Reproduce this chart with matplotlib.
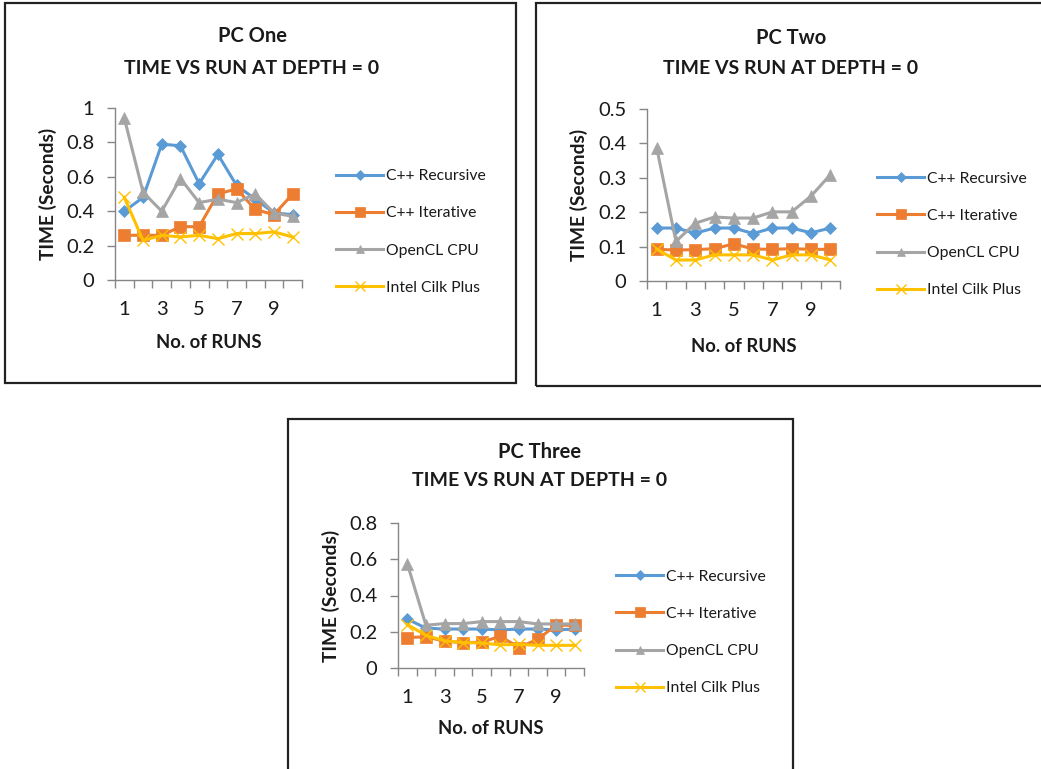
import matplotlib
matplotlib.use("Agg")
import matplotlib.pyplot as plt
from matplotlib.patches import Rectangle
from matplotlib.ticker import FixedLocator, NullFormatter

plt.rcParams['font.family'] = ['Lato', 'DejaVu Sans']

runs = [1, 2, 3, 4, 5, 6, 7, 8, 9, 10]
series_names = ["C++ Recursive", "C++ Iterative", "OpenCL CPU", "Intel Cilk Plus"]

pc1_recursive = [0.40, 0.48, 0.79, 0.78, 0.56, 0.73, 0.55, 0.47, 0.39, 0.38]
pc1_iterative = [0.26, 0.26, 0.26, 0.31, 0.31, 0.50, 0.53, 0.41, 0.38, 0.50]
pc1_opencl = [0.94, 0.51, 0.40, 0.59, 0.45, 0.47, 0.45, 0.50, 0.39, 0.37]
pc1_cilk = [0.48, 0.23, 0.26, 0.25, 0.26, 0.24, 0.27, 0.27, 0.28, 0.25]

pc2_recursive = [0.154, 0.154, 0.139, 0.154, 0.154, 0.138, 0.154, 0.154, 0.140, 0.154]
pc2_iterative = [0.092, 0.090, 0.091, 0.094, 0.108, 0.093, 0.092, 0.094, 0.092, 0.092]
pc2_opencl = [0.388, 0.115, 0.168, 0.186, 0.183, 0.183, 0.201, 0.201, 0.247, 0.309]
pc2_cilk = [0.093, 0.061, 0.061, 0.076, 0.076, 0.076, 0.061, 0.076, 0.076, 0.061]

pc3_recursive = [0.27, 0.22, 0.215, 0.215, 0.215, 0.21, 0.215, 0.215, 0.21, 0.215]
pc3_iterative = [0.168, 0.172, 0.148, 0.14, 0.142, 0.175, 0.113, 0.158, 0.236, 0.236]
pc3_opencl = [0.576, 0.236, 0.245, 0.245, 0.256, 0.256, 0.256, 0.243, 0.243, 0.243]
pc3_cilk = [0.24, 0.18, 0.15, 0.14, 0.138, 0.128, 0.13, 0.125, 0.125, 0.125]

colors = ["#5B9BD5", "#ED7D31", "#A5A5A5", "#FFC000"]
markers = ["D", "s", "^", "x"]
msizes = [6, 9, 8, 9]

W, H = 1041, 769
fig = plt.figure(figsize=(W / 100, H / 100), dpi=100)
fig.patch.set_facecolor("white")

def fx(px):
    return px / W

def fy(py):
    return 1 - py / H

panels = [
    dict(title="PC One", frame=(5, 3, 516, 383), ax=(115, 108, 302, 280),
         ymax=1.0, yticks=[0, 0.2, 0.4, 0.6, 0.8, 1.0], yfmt=["0", "0.2", "0.4", "0.6", "0.8", "1"],
         data=[pc1_recursive, pc1_iterative, pc1_opencl, pc1_cilk],
         title_xy=(252, 36, 68), xlab_y=342, ylab_x=48, leg=(336, 232)),
    dict(title="PC Two", frame=(536, 3, 1045, 386), ax=(647, 109, 840, 281),
         ymax=0.5, yticks=[0, 0.1, 0.2, 0.3, 0.4, 0.5], yfmt=["0", "0.1", "0.2", "0.3", "0.4", "0.5"],
         data=[pc2_recursive, pc2_iterative, pc2_opencl, pc2_cilk],
         title_xy=(791, 38, 68), xlab_y=346, ylab_x=579, leg=(877, 234.5)),
    dict(title="PC Three", frame=(288, 419, 793, 775), ax=(398, 523, 584, 668),
         ymax=0.8, yticks=[0, 0.2, 0.4, 0.6, 0.8], yfmt=["0", "0.2", "0.4", "0.6", "0.8"],
         data=[pc3_recursive, pc3_iterative, pc3_opencl, pc3_cilk],
         title_xy=(540, 452, 481), xlab_y=729, ylab_x=331, leg=(616, 632.5)),
]

axis_color = "#868686"
text_color = "#1a1a1a"

for p in panels:
    x0, y0, x1, y1 = p["frame"]
    fig.patches.append(Rectangle((fx(x0), fy(y1)), fx(x1) - fx(x0), fy(y0) - fy(y1),
                                 transform=fig.transFigure, fill=False,
                                 edgecolor="#222222", linewidth=1.6, zorder=0))
    ax0, ay0, ax1, ay1 = p["ax"]
    ax = fig.add_axes([fx(ax0), fy(ay1), fx(ax1) - fx(ax0), fy(ay0) - fy(ay1)])
    ax.set_facecolor("none")
    handles = []
    for vals, c, m, ms, name in zip(p["data"], colors, markers, msizes, series_names):
        mew = 1.0 if m == "x" else 0.5
        h, = ax.plot(runs, vals, color=c, linewidth=2.2, marker=m, markersize=ms,
                     markeredgewidth=mew, markerfacecolor=c, markeredgecolor=c,
                     label=name, clip_on=False)
        handles.append(h)
    ax.set_xlim(0.5, 10.5)
    ax.set_ylim(0, p["ymax"])
    for side in ["top", "right"]:
        ax.spines[side].set_visible(False)
    for side in ["left", "bottom"]:
        ax.spines[side].set_color(axis_color)
        ax.spines[side].set_linewidth(1.0)
    ax.set_yticks(p["yticks"])
    ax.set_yticklabels(p["yfmt"])
    ax.set_xticks([1, 3, 5, 7, 9])
    ax.set_xticklabels(["1", "3", "5", "7", "9"])
    ax.xaxis.set_minor_locator(FixedLocator([i + 0.5 for i in range(0, 11)]))
    ax.xaxis.set_minor_formatter(NullFormatter())
    ax.tick_params(axis="x", which="major", length=0, pad=15, labelsize=14.5, labelcolor=text_color)
    ax.tick_params(axis="x", which="minor", length=6, width=1.0, color=axis_color, direction="out")
    ax.tick_params(axis="y", which="major", length=6, width=1.0, color=axis_color,
                   pad=9, labelsize=14.5, labelcolor=text_color)

    tx, ty1, ty2 = p["title_xy"]
    fig.text(fx(tx), fy(ty1), p["title"], ha="center", va="center",
             fontsize=14.5, fontweight="bold", color=text_color)
    fig.text(fx(tx), fy(ty2), "TIME VS RUN AT DEPTH = 0", ha="center", va="center",
             fontsize=14, fontweight="bold", color=text_color)
    fig.text(fx((ax0 + ax1) / 2), fy(p["xlab_y"]), "No. of RUNS", ha="center", va="center",
             fontsize=13.3, fontweight="bold", color=text_color)
    fig.text(fx(p["ylab_x"]), fy((ay0 + ay1) / 2), "TIME (Seconds)", ha="center", va="center",
             rotation=90, fontsize=13.8, fontweight="bold", color=text_color)

    lx, ly = p["leg"]
    leg = fig.legend(handles=handles, loc="center left", bbox_to_anchor=(fx(lx), fy(ly)),
                     bbox_transform=fig.transFigure, frameon=False, fontsize=11.3,
                     handlelength=3.0, handletextpad=0.2, labelspacing=1.48,
                     borderaxespad=0, borderpad=0, markerscale=0.8)
    for t in leg.get_texts():
        t.set_color(text_color)

fig.savefig("out.png", dpi=100, facecolor="white")
